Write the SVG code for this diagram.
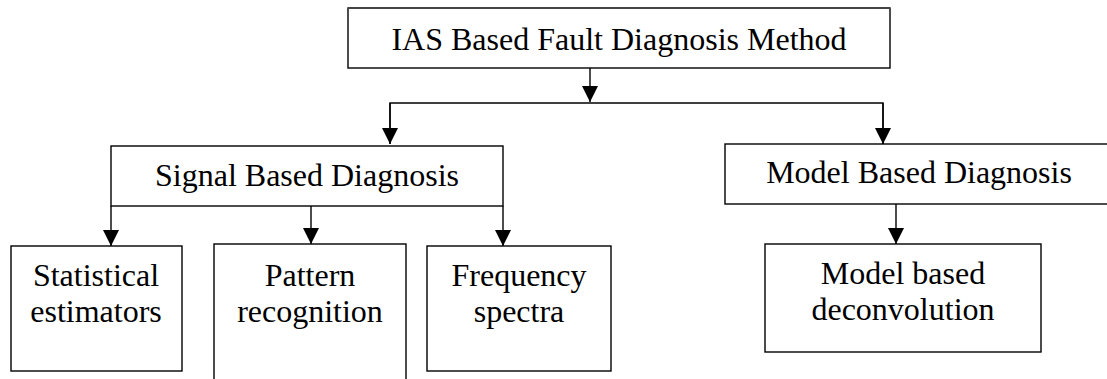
<svg xmlns="http://www.w3.org/2000/svg" width="1107" height="379" viewBox="0 0 1107 379">
<defs>
<style>
.box{fill:#fff;stroke:#000;stroke-width:1.4}
.ln{fill:none;stroke:#000;stroke-width:1.4}
.t{font-family:'Liberation Serif','Times New Roman',serif;font-size:32px;fill:#000;text-anchor:middle}
</style>
<marker id="ah" markerUnits="userSpaceOnUse" markerWidth="16" markerHeight="16" viewBox="0 0 16 16" refX="16" refY="8" orient="auto">
<path d="M0,0 L16,8 L0,16 z" fill="#000"/>
</marker>
</defs>
<rect width="1107" height="379" fill="#fff"/>
<g id="connectors">
<line class="ln" x1="590" y1="68" x2="590" y2="102" marker-end="url(#ah)"/>
<polyline class="ln" points="390,144 390,103 883,103 883,144"/>
<line class="ln" x1="390" y1="103" x2="390" y2="144" marker-end="url(#ah)"/>
<line class="ln" x1="883" y1="103" x2="883" y2="144" marker-end="url(#ah)"/>
<line class="ln" x1="111" y1="206" x2="111" y2="246" marker-end="url(#ah)"/>
<line class="ln" x1="311" y1="206" x2="311" y2="244" marker-end="url(#ah)"/>
<line class="ln" x1="503" y1="206" x2="503" y2="246" marker-end="url(#ah)"/>
<line class="ln" x1="896" y1="204" x2="896" y2="244" marker-end="url(#ah)"/>
</g>
<g id="ias">
<rect class="box" x="348" y="8" width="542" height="60"/>
<line x1="348" y1="8" x2="890" y2="8" stroke="#444" stroke-width="2"/>
<text class="t" x="619" y="50">IAS Based Fault Diagnosis Method</text>
</g>
<g id="signal">
<rect class="box" x="111" y="146" width="392" height="60"/>
<text class="t" x="307" y="186">Signal Based Diagnosis</text>
</g>
<g id="model">
<rect class="box" x="725" y="144" width="390" height="60"/>
<text class="t" x="919" y="183">Model Based Diagnosis</text>
</g>
<g id="statistical">
<rect class="box" x="11" y="246" width="171" height="125"/>
<text class="t" x="96" y="286">Statistical</text>
<text class="t" x="96" y="322">estimators</text>
</g>
<g id="pattern">
<rect class="box" x="214" y="244" width="192" height="145"/>
<text class="t" x="310" y="286">Pattern</text>
<text class="t" x="310" y="322">recognition</text>
</g>
<g id="frequency">
<rect class="box" x="427" y="246" width="184" height="125"/>
<text class="t" x="519" y="286">Frequency</text>
<text class="t" x="519" y="322">spectra</text>
</g>
<g id="deconvolution">
<rect class="box" x="765" y="244" width="276" height="108"/>
<text class="t" x="903" y="284">Model based</text>
<text class="t" x="903" y="320">deconvolution</text>
</g>
</svg>
